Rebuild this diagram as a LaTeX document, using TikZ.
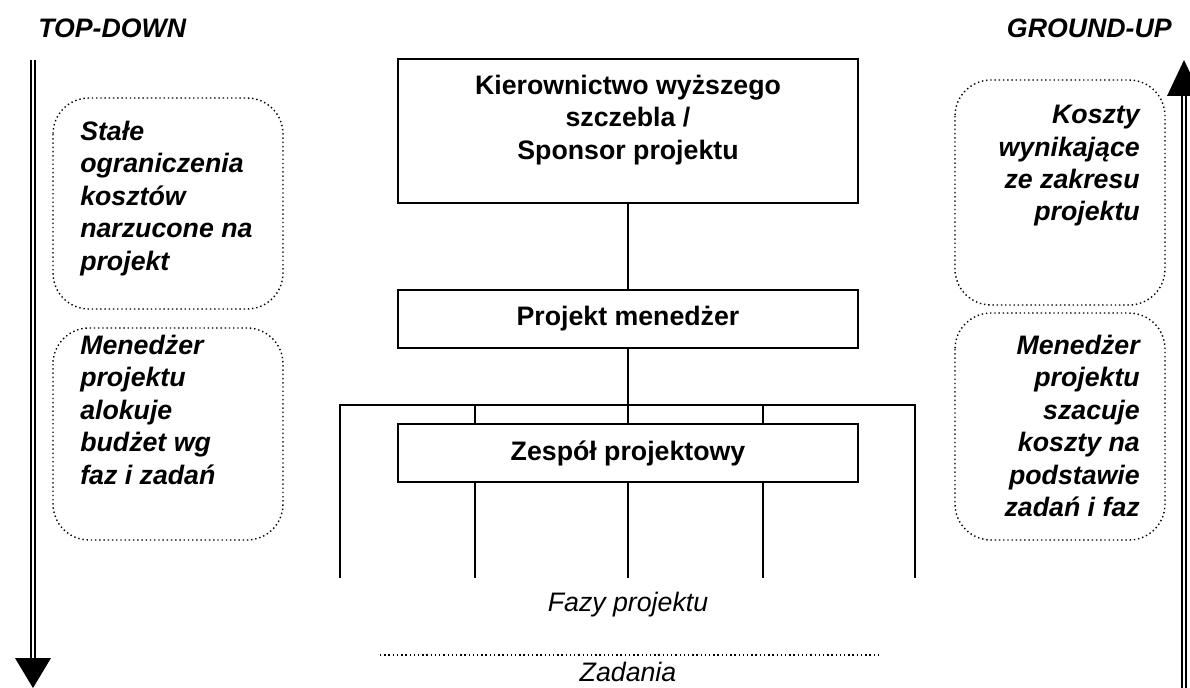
\documentclass[tikz,border=0pt]{standalone}
\usepackage{fontspec}
\setmainfont{Liberation Sans}
\usetikzlibrary{positioning, calc}

\begin{document}
\begin{tikzpicture}[x=0.025cm, y=-0.025cm,
  font=\fontsize{19}{23}\selectfont,
  box/.style={draw, line width=1.4pt, minimum width=11.5cm, minimum height=1.45cm, inner sep=0pt,
    font=\fontsize{19}{23}\selectfont\bfseries, align=center},
  link/.style={line width=1.1pt},
  note/.style={draw, dotted, line width=1pt, rounded corners=0.9cm},
  notetext/.style={inner sep=0pt, font=\fontsize{19}{23}\selectfont\bfseries\itshape},
  flow/.style={double, double distance=2.1pt, line width=1.4pt},
  head/.style={fill=black}]
  \useasboundingbox (0,0) rectangle (1190,688);

  % headings
  \node[notetext, anchor=west] (topdown) at (38,28) {TOP-DOWN};
  \node[notetext, anchor=east] (groundup) at (1172,28) {GROUND-UP};

  % the two flows
  \coordinate (tdtop) at (33,60);
  \coordinate (tdhead) at (33,658);
  \coordinate (tdtip) at (33,688);
  \draw[flow] (tdtop) -- ($(tdhead)+(0,2)$);
  \fill[head] ($(tdhead)+(-18,0)$) -- ($(tdhead)+(18,0)$) -- (tdtip) -- cycle;
  \coordinate (gutip) at (1184,60);
  \coordinate (guhead) at (1184,96);
  \coordinate (gubot) at (1184,690);
  \draw[flow] (gubot) -- ($(guhead)+(0,-2)$);
  \fill[head] ($(guhead)+(-17,0)$) -- ($(guhead)+(17,0)$) -- (gutip) -- cycle;

  % the chain of command
  \node[box, minimum height=3.6cm] (kier) at (628,131) {};
  \node[box, draw=none, minimum width=0pt, minimum height=0pt, anchor=north] (kiertxt) at (628,74)
    {Kierownictwo wyższego\\ szczebla /\\ Sponsor projektu};
  \node[box] (pm) at (628,319) {Projekt menedżer};
  \node[box] (zesp) at (628,453) {Zespół projektowy};

  \coordinate (barW) at (340,405);
  \coordinate (barE) at (915,405);
  \foreach \n/\x in {1/340,2/475,3/628,4/763,5/915}
    \coordinate (ph\n) at (\x,578);

  \draw[link] (kier.south) -- (pm.north);
  \draw[link] (pm.south) -- (pm.south |- barE);
  \draw[link] (ph1) -- (ph1 |- barW) -- (ph5 |- barE) -- (ph5);
  \foreach \n in {2,3,4} {
    \draw[link] (ph\n |- barE) -- (ph\n |- zesp.north);
    \draw[link] (zesp.south -| ph\n) -- (ph\n);
  }

  % phases and tasks
  \node[font=\fontsize{19}{23}\selectfont\itshape] (fazy) at (628,605) {Fazy projektu};
  \draw[dotted, line width=1pt] (380,655) -- (880,655);
  \node[font=\fontsize{19}{23}\selectfont\itshape, inner sep=0pt, anchor=base] (zad) at (628,681) {Zadania};

  % top-down notes
  \draw[note] (53,98) rectangle (283,309);
  \node[notetext, anchor=north west, align=left] (limits) at (80,121)
    {Stałe\\ ograniczenia\\ kosztów\\ narzucone na\\ projekt};
  \draw[note] (53,328) rectangle (283,540);
  \node[notetext, anchor=north west, align=left] (alloc) at (80,335)
    {Menedżer\\ projektu\\ alokuje\\ budżet wg\\ faz i zadań};

  % ground-up notes
  \draw[note] (955,80) rectangle (1165,305);
  \node[notetext, anchor=north east, align=right] (scope) at (1140,105)
    {Koszty\\ wynikające\\ ze zakresu\\ projektu};
  \draw[note] (955,313) rectangle (1165,540);
  \node[notetext, anchor=north east, align=right] (estim) at (1140,335)
    {Menedżer\\ projektu\\ szacuje\\ koszty na\\ podstawie\\ zadań i faz};
\end{tikzpicture}
\end{document}
